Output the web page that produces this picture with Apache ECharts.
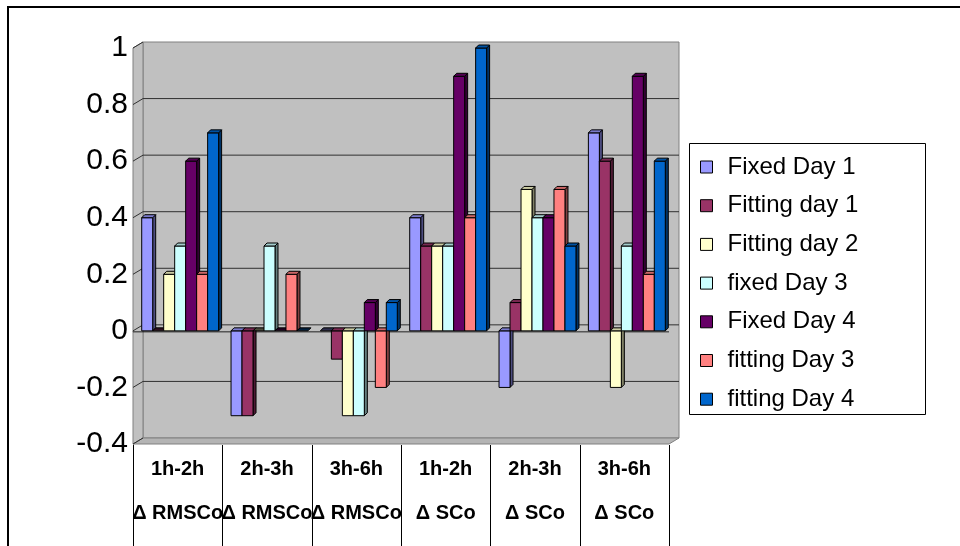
<!DOCTYPE html>
<html>
<head>
<meta charset="utf-8">
<script src="https://cdn.jsdelivr.net/npm/echarts@6/dist/echarts.min.js"></script>
<style>
  html, body { margin: 0; padding: 0; background: #ffffff; }
  #chart { width: 960px; height: 546px; }
</style>
</head>
<body>
<div id="chart"></div>
<script>
// Time windows and measures for each category column
const periods  = ['1h-2h', '2h-3h', '3h-6h', '1h-2h', '2h-3h', '3h-6h'];
const measures = ['Δ RMSCo', 'Δ RMSCo', 'Δ RMSCo', 'Δ SCo', 'Δ SCo', 'Δ SCo'];

// Series names and values (one value per category)
const seriesNames = ['Fixed Day 1', 'Fitting day 1', 'Fitting day 2', 'fixed Day 3', 'Fixed Day 4', 'fitting Day 3', 'fitting Day 4'];
const fixedDay1   = [0.4, -0.3,  0.0, 0.4, -0.2,  0.7];
const fittingDay1 = [0.0, -0.3, -0.1, 0.3,  0.1,  0.6];
const fittingDay2 = [0.2,  0.0, -0.3, 0.3,  0.5, -0.2];
const fixedDay3   = [0.3,  0.3, -0.3, 0.3,  0.4,  0.3];
const fixedDay4   = [0.6,  0.0,  0.1, 0.9,  0.4,  0.9];
const fittingDay3 = [0.2,  0.2, -0.2, 0.4,  0.5,  0.2];
const fittingDay4 = [0.7,  0.0,  0.1, 1.0,  0.3,  0.6];
const seriesValues = [fixedDay1, fittingDay1, fittingDay2, fixedDay3, fixedDay4, fittingDay3, fittingDay4];

// Value axis ticks
const yTicks = [-0.4, -0.2, 0, 0.2, 0.4, 0.6, 0.8, 1.0];

const palette = ['#9999FF', '#993366', '#FFFFCC', '#CCFFFF', '#660066', '#FF8080', '#0066CC'];

// Pseudo-3D geometry
const WALL_DX = 10, WALL_DY = -6;   // back wall offset from front plane
const BAR_DEPTH = 3;                // bar depth in px
const BAR_FRAC = 0.123;             // bar width as fraction of category band
const BAR_SHIFT = 2.5;              // cluster shift to the right
const TABLE_DEPTH = 104;            // length of the column separators under the plot

function shade(hex, f) {
  const n = parseInt(hex.slice(1), 16);
  const r = Math.round(((n >> 16) & 255) * f);
  const g = Math.round(((n >> 8) & 255) * f);
  const b = Math.round((n & 255) * f);
  return 'rgb(' + r + ',' + g + ',' + b + ')';
}

// Back wall, side wall, floor, gridlines and column separators drawn from the axis scales
function renderWall(params, api) {
  const cs = params.coordSys;
  const x0 = cs.x, x1 = cs.x + cs.width;
  const yT = cs.y, yB = cs.y + cs.height;
  const dx = WALL_DX, dy = WALL_DY;
  const edge = { stroke: '#808080', lineWidth: 1 };
  const children = [
    { type: 'rect', shape: { x: x0 + dx, y: yT + dy, width: cs.width, height: cs.height },
      style: { fill: '#C0C0C0', stroke: '#808080', lineWidth: 1 } },
    { type: 'polygon', shape: { points: [[x0, yT], [x0 + dx, yT + dy], [x0 + dx, yB + dy], [x0, yB]] },
      style: Object.assign({ fill: '#C0C0C0' }, edge) },
    { type: 'polygon', shape: { points: [[x0, yB], [x0 + dx, yB + dy], [x1 + dx, yB + dy], [x1, yB]] },
      style: Object.assign({ fill: '#B4B4B4' }, edge) }
  ];
  yTicks.forEach(function (v) {
    const y = api.coord([0, v])[1];
    if (v > yTicks[0] && v < yTicks[yTicks.length - 1]) {
      children.push({ type: 'line', shape: { x1: x0 + dx, y1: y + dy, x2: x1 + dx, y2: y + dy },
        style: { stroke: '#303030', lineWidth: 1 } });
    }
    children.push({ type: 'line', shape: { x1: x0, y1: y, x2: x0 + dx, y2: y + dy },
      style: { stroke: '#303030', lineWidth: 1 } });
  });
  // front zero line
  const yz = api.coord([0, 0])[1];
  children.push({ type: 'line', shape: { x1: x0, y1: yz + 1, x2: x1, y2: yz + 1 },
    style: { stroke: '#202020', lineWidth: 1 } });
  // column separators of the category table
  const band = api.size([1, 0])[0];
  for (let c = 0; c <= periods.length; c++) {
    const xc = Math.round(api.coord([Math.min(c, periods.length - 1), 0])[0] +
      (c < periods.length ? -band / 2 : band / 2)) + 0.5;
    children.push({ type: 'line', shape: { x1: xc, y1: yB + 1, x2: xc, y2: yB + TABLE_DEPTH },
      style: { stroke: '#000', lineWidth: 1 } });
  }
  return { type: 'group', children: children };
}

function makeBarRenderer(idx, color) {
  const sideC = shade(color, 0.5);
  const topC = shade(color, 0.8);
  const flatC = shade(color, 0.3);
  return function (params, api) {
    const cat = api.value(0), v = api.value(1);
    const band = api.size([1, 0])[0];
    const w = band * BAR_FRAC;
    const base = api.coord([cat, 0]);
    const tip = api.coord([cat, v]);
    const x = base[0] - w * 3.5 + idx * w + BAR_SHIFT;
    const yTop = Math.min(base[1], tip[1]);
    const yBot = Math.max(base[1], tip[1]);
    const d = BAR_DEPTH;
    const stroke = { stroke: '#000', lineWidth: 1, lineJoin: 'round' };
    const children = [];
    const hasHeight = yBot - yTop > 0.5;
    if (hasHeight) {
      children.push({ type: 'polygon',
        shape: { points: [[x + w, yTop], [x + w + d, yTop - d], [x + w + d, yBot - d], [x + w, yBot]] },
        style: Object.assign({ fill: sideC }, stroke) });
      children.push({ type: 'rect', shape: { x: x, y: yTop, width: w, height: yBot - yTop },
        style: Object.assign({ fill: color }, stroke) });
    }
    children.push({ type: 'polygon',
      shape: { points: [[x, yTop], [x + d, yTop - d], [x + w + d, yTop - d], [x + w, yTop]] },
      style: Object.assign({ fill: hasHeight ? topC : flatC }, stroke) });
    return { type: 'group', children: children };
  };
}

const chart = echarts.init(document.getElementById('chart'), null, { renderer: 'canvas' });

const series = [{
  type: 'custom',
  name: '_wall',
  silent: true,
  clip: false,
  z: 1,
  data: [[0, 0]],
  renderItem: renderWall
}];
seriesNames.forEach(function (name, i) {
  series.push({
    type: 'custom',
    name: name,
    clip: false,
    z: 3 + i,
    itemStyle: { color: palette[i], borderColor: '#000', borderWidth: 1 },
    data: seriesValues[i].map(function (v, c) { return [c, v]; }),
    renderItem: makeBarRenderer(i, palette[i])
  });
});

chart.setOption({
  animation: false,
  backgroundColor: '#ffffff',
  textStyle: { fontFamily: '"Liberation Sans", Arial, sans-serif' },
  grid: { left: 133, top: 48, width: 536, height: 396, containLabel: false, outerBoundsMode: 'none' },
  xAxis: {
    type: 'category',
    data: periods.map(function (p, i) { return p + '\n' + measures[i]; }),
    boundaryGap: true,
    axisLine: { show: true, lineStyle: { color: '#808080', width: 1 } },
    axisTick: { show: false },
    axisLabel: {
      interval: 0, margin: 3, color: '#000', fontSize: 20, fontWeight: 'bold',
      lineHeight: 44, fontFamily: '"Liberation Sans", Arial, sans-serif'
    },
    splitLine: { show: false }
  },
  yAxis: {
    type: 'value',
    min: yTicks[0],
    max: yTicks[yTicks.length - 1],
    interval: 0.2,
    axisLine: { show: true, lineStyle: { color: '#404040', width: 1 } },
    axisTick: { show: false },
    splitLine: { show: false },
    axisLabel: {
      margin: 5, color: '#000', fontSize: 30,
      fontFamily: '"Liberation Sans", Arial, sans-serif',
      formatter: function (v) { return String(Number(v.toFixed(1))); }
    }
  },
  legend: {
    data: seriesNames,
    orient: 'vertical',
    left: 700,
    top: 154,
    padding: 0,
    itemWidth: 12,
    itemHeight: 12,
    itemGap: 12.7,
    icon: 'rect',
    itemStyle: { borderColor: '#000', borderWidth: 1 },
    textStyle: { color: '#000', fontSize: 24, lineHeight: 26, padding: [0, 0, 0, 10],
      fontFamily: '"Liberation Sans", Arial, sans-serif' }
  },
  graphic: [
    { type: 'rect', silent: true, z: 0,
      shape: { x: 8, y: 7, width: 1000, height: 600 },
      style: { fill: 'none', stroke: '#000', lineWidth: 2 } },
    { type: 'rect', silent: true, z: 0,
      shape: { x: 689.5, y: 143.5, width: 236, height: 271 },
      style: { fill: '#fff', stroke: '#000', lineWidth: 1 } }
  ],
  series: series
});
</script>
</body>
</html>
